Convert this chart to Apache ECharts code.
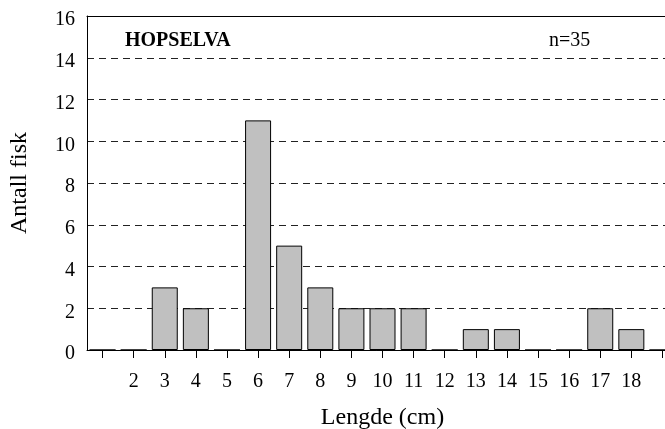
<!DOCTYPE html>
<html>
<head>
<meta charset="utf-8">
<title>Hopselva</title>
<script src="https://cdn.jsdelivr.net/npm/echarts@6/dist/echarts.min.js"></script>
<style>
  html, body { margin: 0; padding: 0; background: #fff; }
  #lengde { width: 665px; height: 429px; }
</style>
</head>
<body>
<div id="lengde"></div>
<script>
  // lengdeklasser (cm) og antall fisk
  var lengder = ['1', '2', '3', '4', '5', '6', '7', '8', '9', '10', '11', '12', '13', '14', '15', '16', '17', '18', '19']
  var antall = [0, 0, 3, 2, 0, 11, 5, 3, 2, 2, 2, 0, 1, 1, 0, 0, 2, 1, 0]
  var skjulteEtiketter = ['1', '19']
  var tittel = 'HOPSELVA'
  var nTekst = 'n=35'

  var font = "'Liberation Serif', 'DejaVu Serif', serif"

  var myChart = echarts.init(document.getElementById('lengde'))
  var option = {
    animation: false,
    backgroundColor: '#fff',
    title: [{
      text: tittel,
      left: 125,
      top: 31,
      padding: 0,
      textStyle: { fontFamily: font, fontSize: 20, fontWeight: 'bold', color: '#000' }
    }, {
      text: nTekst,
      left: 549,
      top: 31,
      padding: 0,
      textStyle: { fontFamily: font, fontSize: 20, fontWeight: 'normal', color: '#000' }
    }],
    grid: {
      left: 87,
      top: 16,
      height: 334,
      // plottet fortsetter litt forbi kanten til høyre
      width: 591,
      outerBoundsMode: 'none',
      containLabel: false
    },
    xAxis: [{
      type: 'category',
      data: lengder,
      boundaryGap: true,
      name: 'Lengde (cm)',
      nameLocation: 'middle',
      nameGap: 56,
      nameTextStyle: { fontFamily: font, fontSize: 24, color: '#000' },
      axisLine: { lineStyle: { color: '#000', width: 1 } },
      axisTick: { show: true, alignWithLabel: true, length: 8, lineStyle: { color: '#000', width: 1 } },
      axisLabel: {
        interval: 0,
        margin: 22,
        fontFamily: font,
        fontSize: 20,
        color: '#000',
        formatter: function (v) {
          return skjulteEtiketter.indexOf(v) >= 0 ? '' : v
        }
      },
      splitLine: { show: false }
    }, {
      // øvre ramme
      type: 'category',
      data: lengder,
      position: 'top',
      axisLine: { lineStyle: { color: '#000', width: 1 } },
      axisTick: { show: false },
      axisLabel: { show: false },
      splitLine: { show: false }
    }],
    yAxis: {
      type: 'value',
      min: 0,
      max: 16,
      interval: 2,
      name: 'Antall fisk',
      nameLocation: 'middle',
      nameGap: 55,
      nameTextStyle: { fontFamily: font, fontSize: 24, color: '#000' },
      axisLine: { show: true, lineStyle: { color: '#000', width: 1 } },
      axisTick: { show: false },
      axisLabel: {
        margin: 12,
        verticalAlign: 'top',
        lineHeight: 8,
        fontFamily: font,
        fontSize: 20,
        color: '#000'
      },
      splitLine: {
        show: true,
        lineStyle: { color: '#222', width: 1, type: [7, 5] }
      }
    },
    series: [{
      name: 'Antall fisk',
      type: 'bar',
      data: antall,
      barWidth: 26,
      itemStyle: { color: '#c0c0c0', borderColor: '#000', borderWidth: 1 }
    }]
  }
  myChart.setOption(option)
</script>
</body>
</html>
